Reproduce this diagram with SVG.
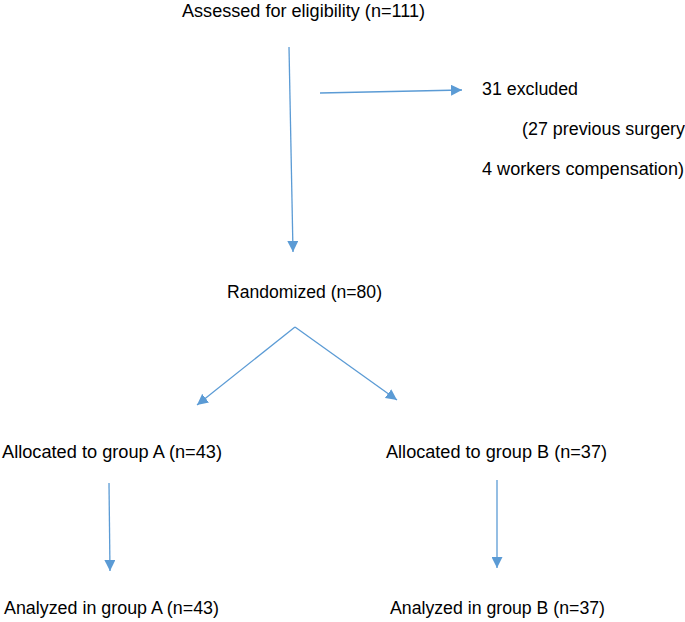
<svg xmlns="http://www.w3.org/2000/svg" width="685" height="622" viewBox="0 0 685 622">
<style>
text{font-family:"Liberation Sans",Arial,sans-serif;font-size:17.5px;fill:#000}
.c{stroke:#5B9BD5;stroke-width:1.3;fill:none}
</style>
<defs>
<marker id="ah" viewBox="0 0 10 10" refX="10" refY="5" markerWidth="11" markerHeight="11" markerUnits="userSpaceOnUse" orient="auto">
<path d="M0,0 L10,5 L0,10 z" fill="#5B9BD5"/>
</marker>
</defs>
<rect width="685" height="622" fill="#fff"/>
<g id="connectors">
<path class="c" d="M289,47 L293,252" marker-end="url(#ah)"/>
<path class="c" d="M320,93 L462,90" marker-end="url(#ah)"/>
<path class="c" d="M295,327 L197,405" marker-end="url(#ah)"/>
<path class="c" d="M295,327 L397,400" marker-end="url(#ah)"/>
<path class="c" d="M109,483 L110,571" marker-end="url(#ah)"/>
<path class="c" d="M497,480 L497,568" marker-end="url(#ah)"/>
</g>
<g id="assessed"><text x="182" y="17" textLength="243" lengthAdjust="spacingAndGlyphs">Assessed for eligibility (n=111)</text></g>
<g id="excluded">
<text x="482" y="95" textLength="96" lengthAdjust="spacingAndGlyphs">31 excluded</text>
<text x="522" y="135" textLength="163" lengthAdjust="spacingAndGlyphs">(27 previous surgery</text>
<text x="482" y="175" textLength="202" lengthAdjust="spacingAndGlyphs">4 workers compensation)</text>
</g>
<g id="randomized"><text x="227" y="298" textLength="155" lengthAdjust="spacingAndGlyphs">Randomized (n=80)</text></g>
<g id="allocA"><text x="2" y="458" textLength="220" lengthAdjust="spacingAndGlyphs">Allocated to group A (n=43)</text></g>
<g id="allocB"><text x="386" y="458" textLength="221" lengthAdjust="spacingAndGlyphs">Allocated to group B (n=37)</text></g>
<g id="analyzedA"><text x="4" y="614" textLength="215" lengthAdjust="spacingAndGlyphs">Analyzed in group A (n=43)</text></g>
<g id="analyzedB"><text x="390" y="614" textLength="215" lengthAdjust="spacingAndGlyphs">Analyzed in group B (n=37)</text></g>
</svg>
